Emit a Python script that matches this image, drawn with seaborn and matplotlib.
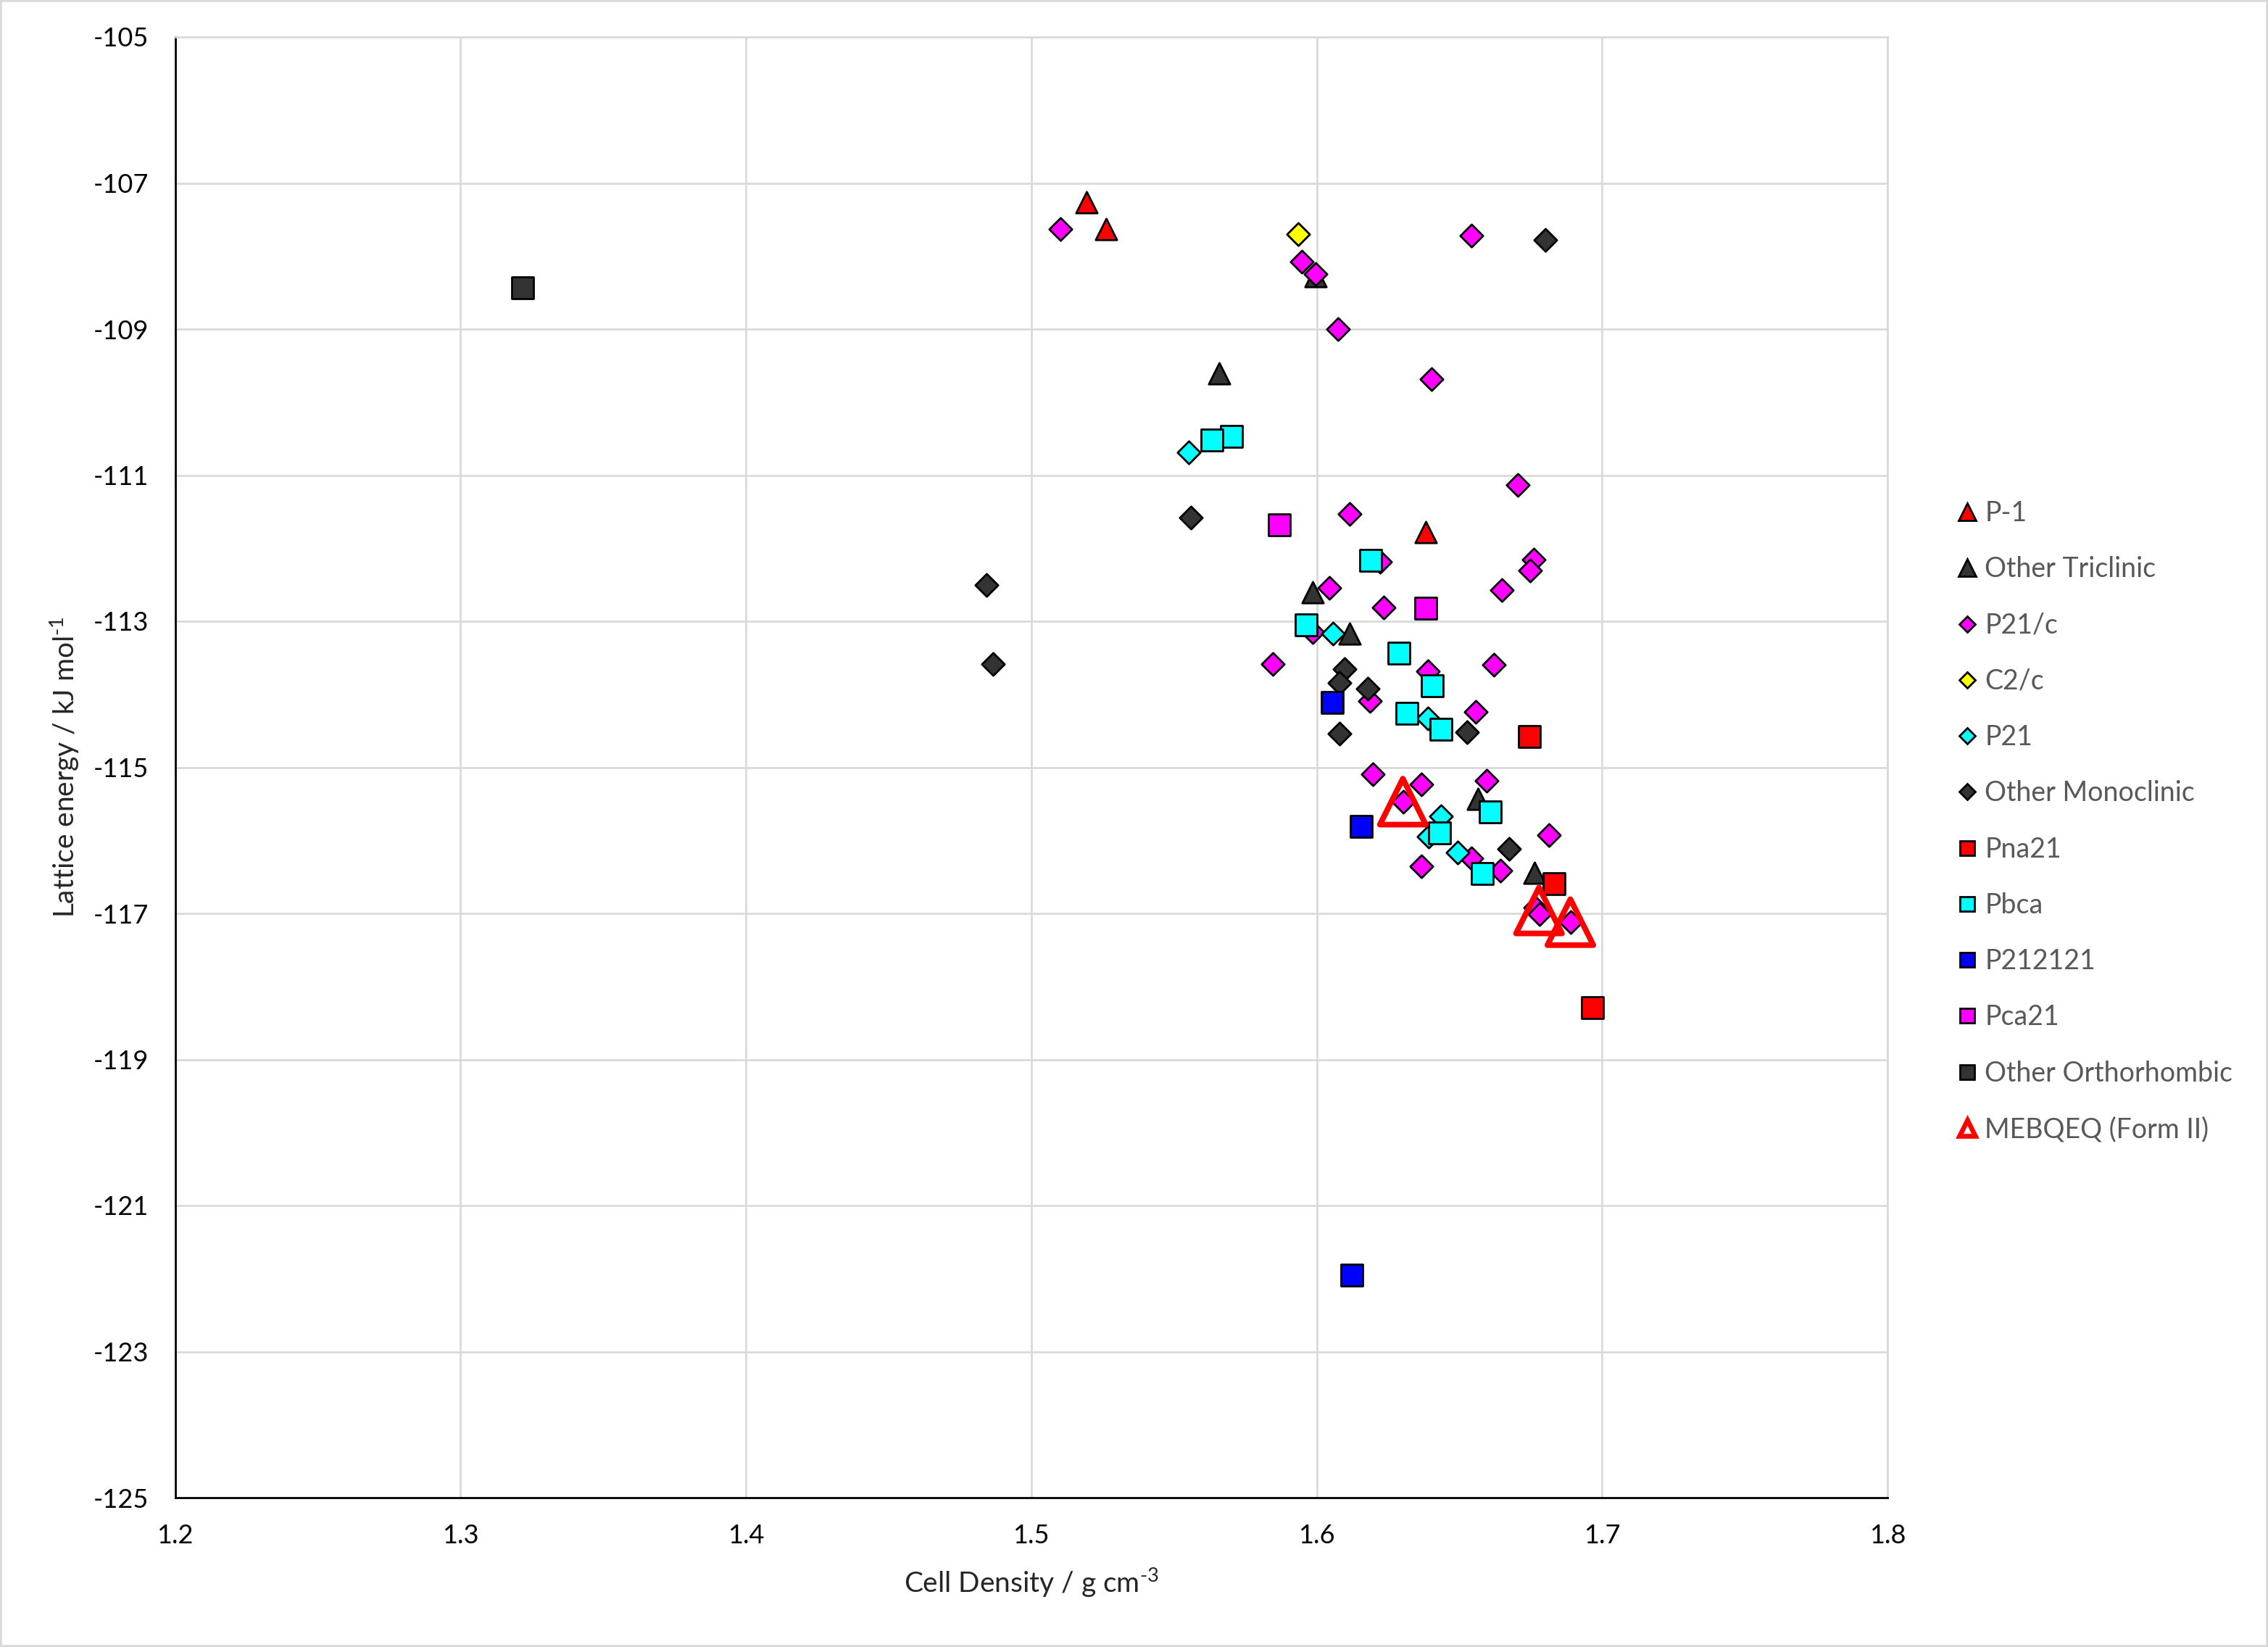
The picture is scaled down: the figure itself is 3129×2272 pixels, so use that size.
import matplotlib
matplotlib.use('Agg')
import matplotlib.pyplot as plt
from matplotlib.lines import Line2D
from matplotlib.patches import Rectangle
import seaborn as sns
import pandas as pd

# ---- data ----
p1_x = [1.5194, 1.5262, 1.6381]
p1_y = [-107.26, -107.63, -111.78]

tric_x = [1.5996, 1.5658, 1.5986, 1.6115, 1.6566, 1.6762]
tric_y = [-108.28, -109.61, -112.60, -113.17, -115.43, -116.44]

p21c_x = [1.5102, 1.5948, 1.5996, 1.6076, 1.6541, 1.6402, 1.6115, 1.6223, 1.6045,
          1.6235, 1.5987, 1.5846, 1.6187, 1.6389, 1.6558, 1.6704, 1.6761, 1.6747,
          1.6648, 1.6620, 1.6196, 1.6366, 1.6303, 1.6595, 1.6814, 1.6543, 1.6644,
          1.6366, 1.6765, 1.6782, 1.6889]
p21c_y = [-107.63, -108.08, -108.25, -109.00, -107.72, -109.68, -111.53, -112.19, -112.54,
          -112.81, -113.15, -113.59, -114.09, -113.68, -114.24, -111.13, -112.16, -112.31,
          -112.57, -113.60, -115.09, -115.23, -115.47, -115.18, -115.93, -116.25, -116.41,
          -116.35, -116.92, -117.01, -117.12]

c2c_x = [1.5935]
c2c_y = [-107.70]

p21_x = [1.5551, 1.6056, 1.6390, 1.6435, 1.6393, 1.6494]
p21_y = [-110.69, -113.17, -114.33, -115.67, -115.95, -116.17]

mono_x = [1.6800, 1.5559, 1.4844, 1.4866, 1.6097, 1.6080, 1.6179, 1.6080, 1.6526, 1.6674]
mono_y = [-107.78, -111.58, -112.50, -113.59, -113.66, -113.84, -113.92, -114.54, -114.52, -116.12]

pna21_x = [1.6746, 1.6832, 1.6967]
pna21_y = [-114.58, -116.59, -118.29]

pbca_x = [1.5701, 1.5632, 1.6190, 1.5962, 1.6288, 1.6406, 1.6317, 1.6436, 1.6609, 1.6431, 1.6580]
pbca_y = [-110.47, -110.52, -112.17, -113.05, -113.44, -113.88, -114.26, -114.48, -115.61, -115.90, -116.45]

p212121_x = [1.6055, 1.6157, 1.6124]
p212121_y = [-114.11, -115.81, -121.95]

pca21_x = [1.5868, 1.6382]
pca21_y = [-111.68, -112.82]

ortho_x = [1.3217]
ortho_y = [-108.43]

mebqeq_x = [1.6302, 1.6779, 1.6889]
mebqeq_y = [-115.47, -116.96, -117.12]

series_labels = ['P-1', 'Other Triclinic', 'P21/c', 'C2/c', 'P21', 'Other Monoclinic',
                 'Pna21', 'Pbca', 'P212121', 'Pca21', 'Other Orthorhombic', 'MEBQEQ (Form II)']
series_data = [(p1_x, p1_y), (tric_x, tric_y), (p21c_x, p21c_y), (c2c_x, c2c_y),
               (p21_x, p21_y), (mono_x, mono_y), (pna21_x, pna21_y), (pbca_x, pbca_y),
               (p212121_x, p212121_y), (pca21_x, pca21_y), (ortho_x, ortho_y),
               (mebqeq_x, mebqeq_y)]

x_ticks = [1.2, 1.3, 1.4, 1.5, 1.6, 1.7, 1.8]
y_ticks = [-125, -123, -121, -119, -117, -115, -113, -111, -109, -107, -105]

# ---- styles ----
dark = '#333333'
styles = {
    'P-1':                ('^', '#FF0000', 112),
    'Other Triclinic':    ('^', dark, 112),
    'P21/c':              ('D', '#FF00FF', 64),
    'C2/c':               ('D', '#FFFF00', 64),
    'P21':                ('D', '#00FFFF', 64),
    'Other Monoclinic':   ('D', dark, 64),
    'Pna21':              ('s', '#FF0000', 120),
    'Pbca':               ('s', '#00FFFF', 120),
    'P212121':            ('s', '#0000FF', 120),
    'Pca21':              ('s', '#FF00FF', 120),
    'Other Orthorhombic': ('s', dark, 120),
}

sns.set_style('white')
plt.rcParams['font.family'] = ['Lato', 'DejaVu Sans']
plt.rcParams['mathtext.fontset'] = 'custom'
plt.rcParams['mathtext.rm'] = 'Lato'
plt.rcParams['mathtext.default'] = 'regular'
plt.rcParams['axes.unicode_minus'] = False

fig = plt.figure(figsize=(3129 / 200, 2272 / 200), dpi=200)
ax = fig.add_axes([241.5 / 3129, 1 - 2066 / 2272, (2604 - 241.5) / 3129, (2066 - 51) / 2272])

grid_col = '#D9D9D9'
ax.set_axisbelow(True)
ax.grid(True, color=grid_col, linewidth=0.95)

handles = []
for name, (xs, ys) in zip(series_labels, series_data):
    df = pd.DataFrame({'density': xs, 'energy': ys})
    if name == 'MEBQEQ (Form II)':
        sns.scatterplot(data=df, x='density', y='energy', marker='^', s=520,
                        color='#FF0000', facecolor='none', edgecolor='#FF0000',
                        linewidth=2.8, ax=ax, zorder=5)
        handles.append(Line2D([], [], ls='none', marker='^', ms=8, mfc='white',
                              mec='#FF0000', mew=2.4, label=name))
        continue
    m, c, s = styles[name]
    sns.scatterplot(data=df, x='density', y='energy', marker=m, s=s, color=c,
                    edgecolor='black', linewidth=1.0, ax=ax, zorder=3)
    ms = {'^': 8.5, 'D': 5.8, 's': 7.5}[m]
    handles.append(Line2D([], [], ls='none', marker=m, ms=ms, mfc=c,
                          mec='black', mew=1.0, label=name))

# round corners on the hollow triangles
for coll in ax.collections:
    coll.set_joinstyle('round')

ax.set_xlim(1.2, 1.8)
ax.set_ylim(-125, -105)
ax.set_xticks(x_ticks)
ax.set_yticks(y_ticks)
ax.set_xticklabels(['1.2', '1.3', '1.4', '1.5', '1.6', '1.7', '1.8'])
ax.set_yticklabels([str(v) for v in y_ticks])
ax.tick_params(axis='both', length=0, labelsize=13, colors='black', pad=13)

for side in ['left', 'bottom']:
    ax.spines[side].set_color('black')
    ax.spines[side].set_linewidth(1.0)
for side in ['top', 'right']:
    ax.spines[side].set_color(grid_col)
    ax.spines[side].set_linewidth(0.95)

ax.set_xlabel(r'Cell Density / g cm$^{\text{-3}}$', fontsize=14)
ax.set_ylabel(r'Lattice energy / kJ mol$^{\text{-1}}$', fontsize=14)
ax.xaxis.set_label_coords(0.5, -0.047)
ax.yaxis.set_label_coords(-0.055, 0.5)

leg = fig.legend(handles=handles, loc='center left', bbox_to_anchor=(0.8625, 0.5013),
                 frameon=False, fontsize=13.5, labelspacing=1.10, handlelength=0.8,
                 handletextpad=0.25, borderpad=0, borderaxespad=0)
for t in leg.get_texts():
    t.set_color('#595959')

fig.patches.append(Rectangle((0, 0), 1, 1, transform=fig.transFigure, fill=False,
                             edgecolor=grid_col, linewidth=2.0))

fig.savefig('out.png', dpi=200)
